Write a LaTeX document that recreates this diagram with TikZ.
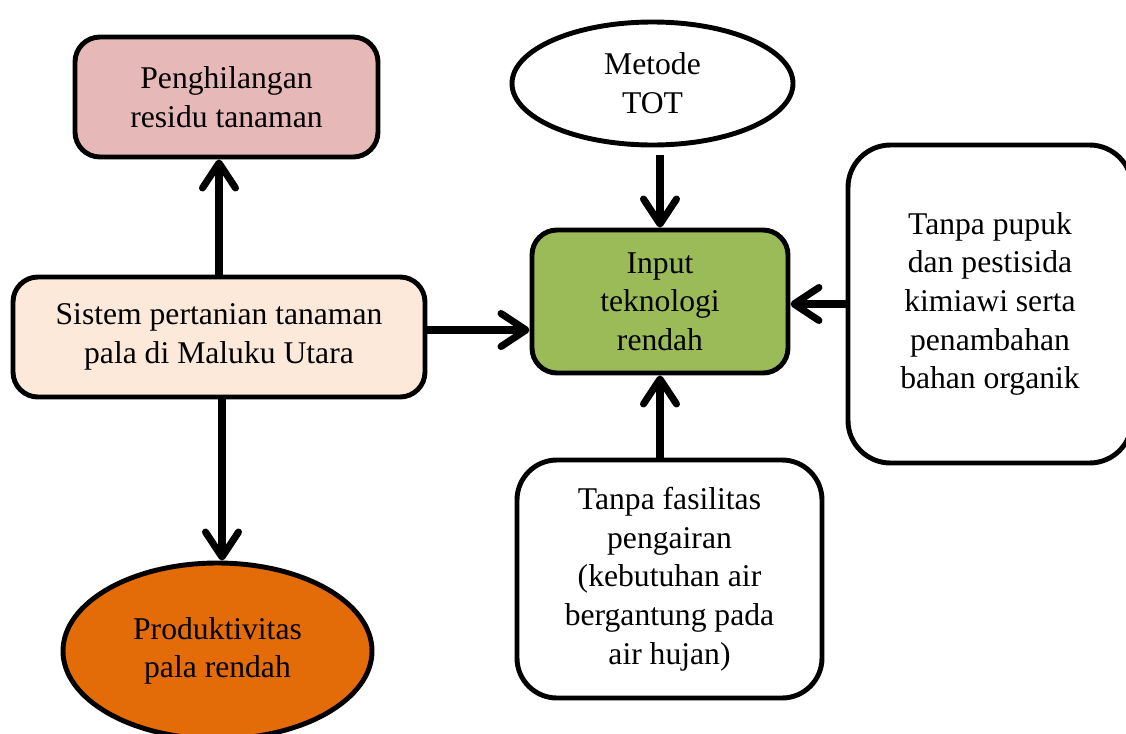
\documentclass[tikz,border=0pt]{standalone}
\usepackage{fontspec}
\setmainfont{LiberationSerif}[Extension=.ttf,UprightFont=*-Regular,BoldFont=*-Bold]
\usepackage{tikz}
\usetikzlibrary{arrows.meta, positioning, shapes.geometric, calc}
\definecolor{merahmuda}{HTML}{E6B8B7}
\definecolor{krem}{HTML}{FDE9D9}
\definecolor{hijau}{HTML}{9BBB59}
\definecolor{oranye}{HTML}{E36C09}

\begin{document}
\begin{tikzpicture}[
	box/.style={draw,line width=2.8pt,rounded corners=0.5cm,align=center,font=\rmfamily\fontsize{18}{22}\selectfont},
	oval/.style={draw,ellipse,line width=2.8pt,inner sep=0pt,align=center,font=\rmfamily\fontsize{18}{22}\selectfont},
	arr/.style={line width=4pt,-{Straight Barb[round,length=0.5cm,width=0.66cm]}}
	]
					\useasboundingbox (0,0) rectangle (22.52,-14.66);
					
					\node (residu) at (4.53,-1.94) [box,fill=merahmuda,minimum width=6.06cm,minimum height=2.4cm] {Penghilangan\\residu tanaman};
					\node (metode) at (13.05,-1.67) [oval,fill=white,minimum width=5.62cm,minimum height=2.46cm] {Metode\\TOT};
					\node (sistem) at (4.38,-6.74) [box,fill=krem,minimum width=8.24cm,minimum height=2.4cm] {Sistem pertanian tanaman\\pala di Maluku Utara};
					\node (input) at (13.2,-6.03) [box,fill=hijau,minimum width=5.12cm,minimum height=2.86cm] {Input\\teknologi\\rendah};
					\node (pupuk) at (19.8,-6.08) [box,fill=white,rounded corners=0.85cm,minimum width=5.68cm,minimum height=6.36cm] {Tanpa pupuk\\dan pestisida\\kimiawi serta\\penambahan\\bahan organik};
					\node (air) at (13.39,-11.58) [box,fill=white,rounded corners=0.8cm,minimum width=6.1cm,minimum height=4.76cm] {Tanpa fasilitas\\pengairan\\(kebutuhan air\\bergantung pada\\air hujan)};
					\node (produktivitas) at (4.35,-13.02) [oval,fill=oranye,minimum width=6.18cm,minimum height=3.52cm] {Produktivitas\\pala rendah};
					
					\draw[arr] (sistem.north) -- (sistem.north |- residu.south);
					\draw[arr] ([xshift=0.06cm]sistem.south) -- ([xshift=0.06cm]sistem.south |- produktivitas.north);
					
					\draw[arr] ([yshift=0.14cm]sistem.east) -- ([yshift=0.14cm]sistem.east -| input.west);
					\draw[arr,shorten <=0.16cm] (input.north |- metode.south) -- (input.north);
					\draw[arr] (air.north -| input.south) -- (input.south);
					\draw[arr] (pupuk.west) -- (pupuk.west -| input.east);
				\end{tikzpicture}
\end{document}
